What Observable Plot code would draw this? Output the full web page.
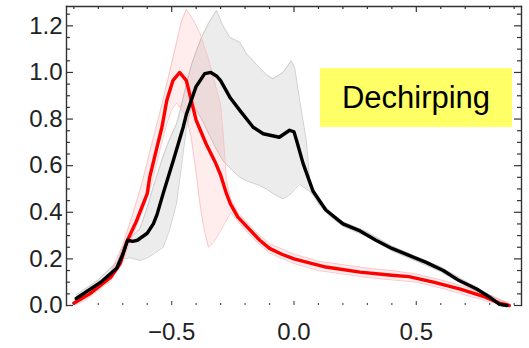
<!DOCTYPE html>
<html><head><meta charset="utf-8">
<script src="https://cdn.jsdelivr.net/npm/d3@7"></script>
<script src="https://cdn.jsdelivr.net/npm/@observablehq/plot@0.6"></script>
<style>
body{margin:0;background:#fff;}
#wrap{position:relative;width:529px;height:348px;}
#lbl{position:absolute;left:320px;top:68px;width:192px;height:59px;background:#ffff66;font:31px "Liberation Sans",Arial,sans-serif;display:flex;align-items:center;justify-content:center;color:#000;}
</style></head><body><div id="wrap"><div id="lbl">Dechirping</div></div>
<script>
// Red (mean) curve
const redX = [-0.90,-0.835,-0.75,-0.71,-0.685,-0.645,-0.60,-0.59,-0.56,-0.54,-0.52,-0.495,-0.467,-0.44,-0.42,-0.40,-0.36,-0.32,-0.30,-0.276,-0.26,-0.23,-0.19,-0.14,-0.10,-0.05,0,0.13,0.27,0.40,0.47,0.57,0.68,0.78,0.84,0.88];
const redY = [0.01,0.05,0.12,0.18,0.27,0.36,0.48,0.55,0.68,0.765,0.88,0.965,1.0,0.965,0.88,0.795,0.695,0.61,0.56,0.48,0.436,0.38,0.335,0.28,0.245,0.22,0.20,0.165,0.143,0.13,0.124,0.10,0.07,0.037,0.01,0.0];
// Black (mean) curve
const blackX = [-0.89,-0.79,-0.725,-0.70,-0.68,-0.66,-0.64,-0.60,-0.575,-0.56,-0.535,-0.494,-0.453,-0.44,-0.40,-0.365,-0.34,-0.317,-0.30,-0.276,-0.26,-0.22,-0.167,-0.126,-0.06,-0.018,0.0,0.01,0.037,0.078,0.13,0.20,0.27,0.335,0.40,0.47,0.54,0.61,0.675,0.745,0.80,0.84,0.87];
const blackY = [0.03,0.10,0.16,0.22,0.28,0.275,0.28,0.31,0.35,0.39,0.48,0.62,0.765,0.82,0.94,0.995,1.0,0.985,0.965,0.92,0.89,0.835,0.765,0.737,0.722,0.752,0.745,0.71,0.61,0.49,0.41,0.35,0.32,0.28,0.245,0.215,0.185,0.15,0.107,0.072,0.036,0.005,0.0];
// Red spread band
const redBandX  = [-0.90,-0.85,-0.80,-0.75,-0.70,-0.66,-0.62,-0.58,-0.55,-0.52,-0.50,-0.48,-0.46,-0.44,-0.42,-0.40,-0.385,-0.37,-0.35,-0.33,-0.30,-0.29,-0.276,-0.26,-0.23,-0.20,-0.15,-0.10,0,0.1,0.2,0.3,0.4,0.5,0.6,0.7,0.8,0.88];
const redBandLo = [0.0,0.025,0.065,0.105,0.19,0.30,0.40,0.53,0.66,0.78,0.84,0.87,0.84,0.81,0.72,0.57,0.44,0.34,0.25,0.27,0.32,0.34,0.365,0.40,0.36,0.325,0.27,0.225,0.18,0.15,0.135,0.12,0.11,0.10,0.075,0.045,0.015,0.0];
const redBandHi = [0.02,0.055,0.095,0.14,0.26,0.39,0.53,0.70,0.82,0.95,1.04,1.13,1.22,1.27,1.24,1.20,1.17,1.12,1.06,0.98,0.86,0.74,0.54,0.46,0.40,0.365,0.31,0.265,0.22,0.19,0.175,0.16,0.15,0.135,0.11,0.08,0.045,0.01];
// Black spread band
const grayBandX  = [-0.89,-0.80,-0.72,-0.70,-0.67,-0.63,-0.60,-0.575,-0.535,-0.51,-0.48,-0.46,-0.44,-0.42,-0.40,-0.378,-0.35,-0.317,-0.29,-0.262,-0.222,-0.194,-0.14,-0.113,-0.086,-0.045,-0.011,0.003,0.023,0.05,0.064,0.08,0.105,0.15,0.2,0.3,0.4,0.5,0.6,0.7,0.8,0.87];
const grayBandLo = [0.02,0.08,0.15,0.20,0.205,0.193,0.205,0.22,0.25,0.32,0.44,0.60,0.76,0.85,0.84,0.80,0.74,0.67,0.62,0.59,0.55,0.535,0.515,0.50,0.48,0.458,0.48,0.50,0.52,0.50,0.49,0.47,0.43,0.38,0.34,0.295,0.235,0.19,0.145,0.085,0.026,0.0];
const grayBandHi = [0.045,0.11,0.19,0.25,0.29,0.33,0.42,0.51,0.64,0.71,0.78,0.86,0.95,1.03,1.09,1.15,1.21,1.266,1.20,1.15,1.13,1.08,1.02,0.99,0.973,1.0,1.05,1.02,0.88,0.71,0.54,0.50,0.45,0.40,0.36,0.315,0.255,0.21,0.165,0.105,0.046,0.01];
// Axis ticks and labels
const yTicks = [0,0.2,0.4,0.6,0.8,1.0,1.2];
const yTickLabels = ["0.0","0.2","0.4","0.6","0.8","1.0","1.2"];
const yMinor = [0.05,0.1,0.15,0.25,0.3,0.35,0.45,0.5,0.55,0.65,0.7,0.75,0.85,0.9,0.95,1.05,1.1,1.15,1.25];
const xTicks = [-0.5,0,0.5];
const xTickLabels = ["\u22120.5","0.0","0.5"];
const xMinor = [-0.9,-0.8,-0.7,-0.6,-0.4,-0.3,-0.2,-0.1,0.1,0.2,0.3,0.4,0.6,0.7,0.8,0.9];

const red = redX.map((x,i)=>({x,y:redY[i]}));
const black = blackX.map((x,i)=>({x,y:blackY[i]}));
const redBand = redBandX.map((x,i)=>({x,lo:redBandLo[i],hi:redBandHi[i]}));
const grayBand = grayBandX.map((x,i)=>({x,lo:grayBandLo[i],hi:grayBandHi[i]}));

const W = 529, H = 348, mL = 66, mR = 8, mT = 6, mB = 43;
const fw = W - mL - mR, fh = H - mT - mB;
const axisColor = "#333";
const fontFam = '"Liberation Sans", Arial, sans-serif';

const chart = Plot.plot({
  width: W, height: H,
  marginLeft: mL, marginRight: mR, marginTop: mT, marginBottom: mB,
  x: {domain: [-0.93, 0.93], axis: null},
  y: {domain: [0, 1.283], axis: null},
  style: {fontFamily: fontFam, background: "#fff"},
  marks: [
    Plot.areaY(grayBand, {x:"x", y1:"lo", y2:"hi", fill:"#000", fillOpacity:0.075}),
    Plot.line(grayBand, {x:"x", y:"hi", stroke:"#bbb", strokeWidth:0.7}),
    Plot.line(grayBand, {x:"x", y:"lo", stroke:"#bbb", strokeWidth:0.7}),
    Plot.areaY(redBand, {x:"x", y1:"lo", y2:"hi", fill:"#ff0000", fillOpacity:0.07}),
    Plot.line(redBand, {x:"x", y:"hi", stroke:"#f5b5b5", strokeWidth:0.7}),
    Plot.line(redBand, {x:"x", y:"lo", stroke:"#f5b5b5", strokeWidth:0.7}),
    Plot.line(red, {x:"x", y:"y", stroke:"#ff0000", strokeWidth:3.4}),
    Plot.line(black, {x:"x", y:"y", stroke:"#000", strokeWidth:3.4}),
    Plot.frame({anchor:"top", stroke:axisColor, strokeWidth:1.4}),
    Plot.frame({anchor:"left", stroke:axisColor, strokeWidth:1.4}),
    Plot.frame({anchor:"right", stroke:axisColor, strokeWidth:1.4}),
    // left / right inward ticks
    Plot.tickY(yTicks, {y:d=>d, stroke:axisColor, strokeWidth:1.2, insetRight: fw - 7}),
    Plot.tickY(yMinor, {y:d=>d, stroke:axisColor, strokeWidth:1.2, insetRight: fw - 4}),
    Plot.tickY(yTicks, {y:d=>d, stroke:axisColor, strokeWidth:1.2, insetLeft: fw - 7}),
    Plot.tickY(yMinor, {y:d=>d, stroke:axisColor, strokeWidth:1.2, insetLeft: fw - 4}),
    // top / bottom inward ticks
    Plot.tickX(xTicks, {x:d=>d, stroke:axisColor, strokeWidth:1.2, insetBottom: fh - 6}),
    Plot.tickX(xMinor, {x:d=>d, stroke:axisColor, strokeWidth:1.2, insetBottom: fh - 3}),
    Plot.tickX(xTicks, {x:d=>d, stroke:"#555", strokeWidth:1.2, insetTop: fh - 4}),
    Plot.tickX(xMinor, {x:d=>d, stroke:"#555", strokeWidth:1.2, insetTop: fh - 2}),
    Plot.text(yTicks, {y: d=>d, text:(d,i)=>yTickLabels[i], frameAnchor:"left", dx:-4, textAnchor:"end", lineAnchor:"middle", fontSize:24, fill:"#222"}),
    Plot.text(xTicks, {x: d=>d, text:(d,i)=>xTickLabels[i], frameAnchor:"bottom", dy:27, textAnchor:"middle", lineAnchor:"middle", fontSize:24, fill:"#222"})
  ]
});
document.getElementById("wrap").prepend(chart);
</script>
</body></html>
